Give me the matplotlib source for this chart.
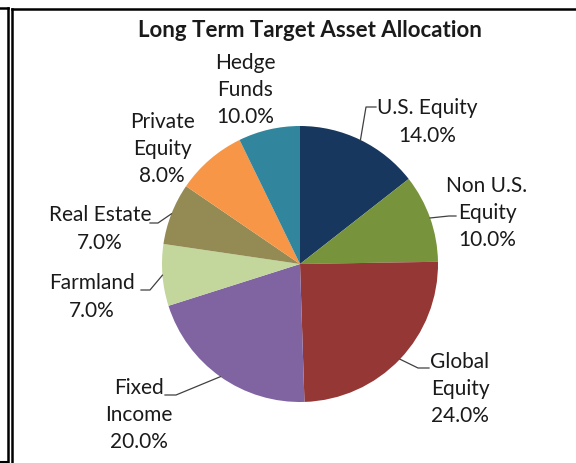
import matplotlib.pyplot as plt
import numpy as np
from matplotlib.lines import Line2D

plt.rcParams['font.family'] = ['Lato', 'DejaVu Sans']

# slice sizes as drawn, and the label text shown beside each slice
assets = ['U.S. Equity', 'Non U.S.\nEquity', 'Global\nEquity', 'Fixed\nIncome',
          'Farmland', 'Real Estate', 'Private\nEquity', 'Hedge\nFunds']
values = [14, 10, 24, 20, 7, 7, 8, 7]
pct_labels = ['14.0%', '10.0%', '24.0%', '20.0%', '7.0%', '7.0%', '8.0%', '10.0%']
colors = ['#17375E', '#77933C', '#953735', '#8064A2',
          '#C3D69B', '#948A54', '#F79646', '#31859C']

W, H = 576, 464
CX, CY, R = 300, 265, 138


def px(x, y):
    # pixel position (from top-left) -> data units of the pie axes
    return (x - CX) / R, (CY - y) / R


fig = plt.figure(figsize=(W / 100, H / 100), dpi=100)
ax = fig.add_axes([0, 0, 1, 1])

wedges, _ = ax.pie(values, colors=colors, startangle=90, counterclock=False,
                   radius=1, center=(0, 0), frame=True)
ax.set_xlim(-CX / R, (W - CX) / R)
ax.set_ylim(-(H - CY) / R, CY / R)
ax.set_aspect('auto')
ax.axis('off')

# label centre (px), leader stub start/end (px) or None
label_pos = [(427, 122), (487, 213), (460, 389), (139, 415),
             (92, 297), (100, 229), (162, 149), (245, 90)]
leaders = [((376, 108), (366, 108)), ((456, 217), (449, 217)),
           ((429, 369), (418, 369)), ((165, 396), (176, 396)),
           ((141, 291), (150, 291)), ((150, 224), (158, 224)),
           None, None]

for i, w in enumerate(wedges):
    x, y = px(*label_pos[i])
    ax.text(x, y, assets[i] + '\n' + pct_labels[i], ha='center', va='center',
            fontsize=15, linespacing=1.45, color='#1a1a1a')
    if leaders[i] is not None:
        mid = np.deg2rad((w.theta1 + w.theta2) / 2)
        ex, ey = np.cos(mid), np.sin(mid)
        (x0, y0), (x1, y1) = px(*leaders[i][0]), px(*leaders[i][1])
        ax.plot([x0, x1, ex], [y0, y1, ey], color='#404040', lw=0.9)

x, y = px(310, 31)
ax.text(x, y, 'Long Term Target Asset Allocation', ha='center', va='center',
        fontsize=16, fontweight='bold', color='#1a1a1a')

# frames around the chart
k = 'black'
fig.add_artist(Line2D([7.5 / W, 7.5 / W], [0, 1 - 9 / H], color=k, lw=1.8))
fig.add_artist(Line2D([0, 7.5 / W], [1 - 9 / H, 1 - 9 / H], color=k, lw=1.8))
fig.add_artist(Line2D([0, 7.5 / W], [1.5 / H, 1.5 / H], color=k, lw=1.5))
fig.add_artist(Line2D([11.5 / W, 11.5 / W], [0, 1 - 10 / H], color=k, lw=1.8))
fig.add_artist(Line2D([11.5 / W, 1], [1 - 10 / H, 1 - 10 / H], color=k, lw=1.8))

fig.savefig('out.png', dpi=100)
